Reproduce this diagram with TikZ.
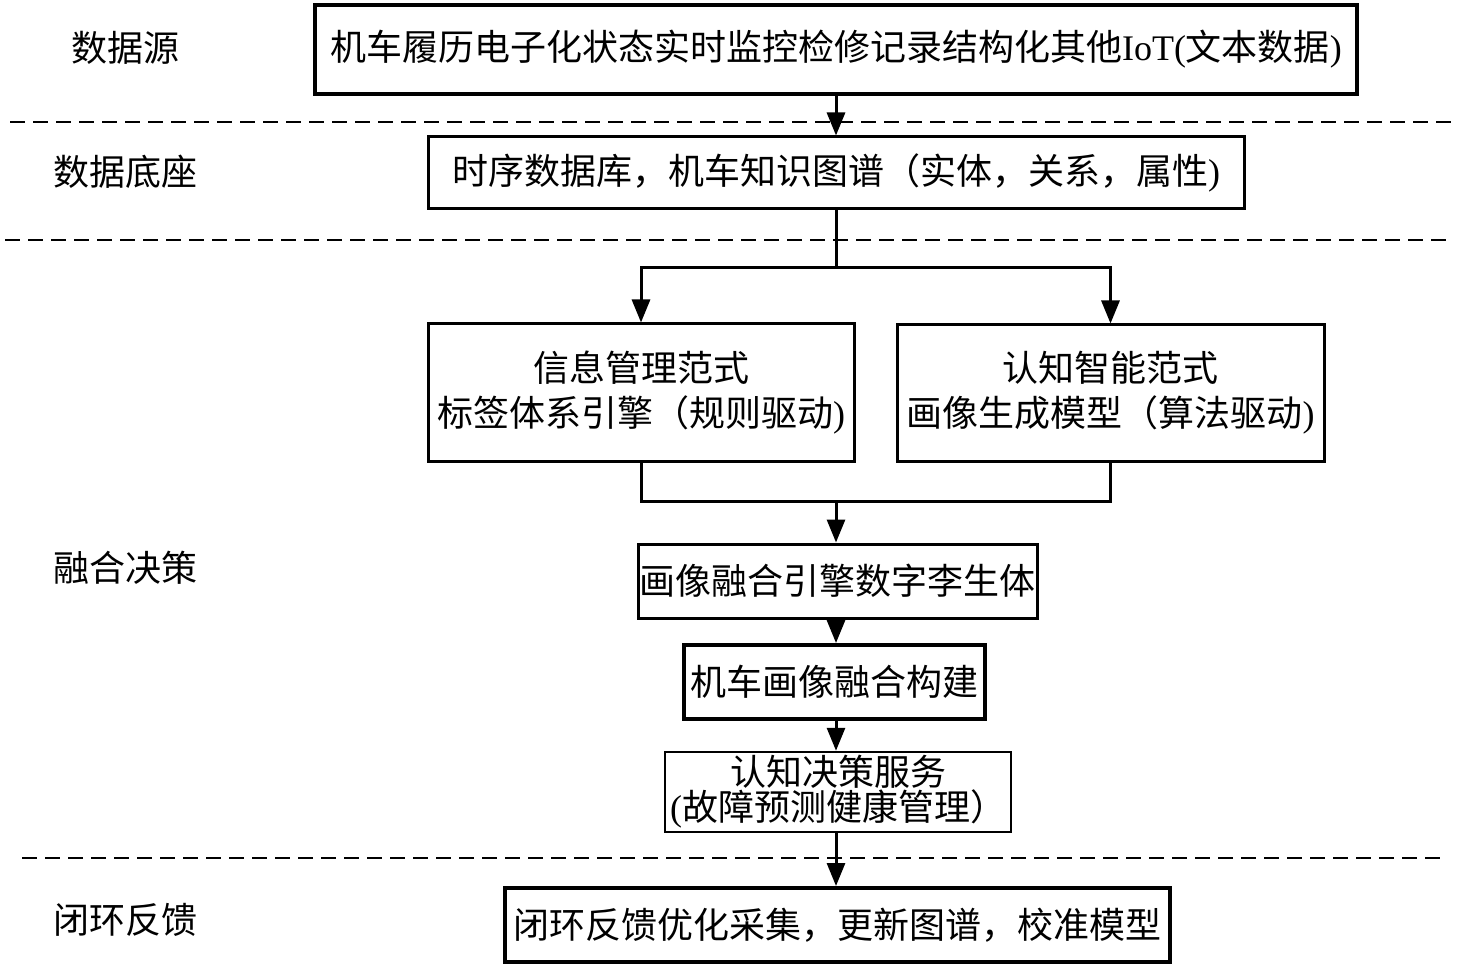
\documentclass[tikz,border=0pt]{standalone}
\usepackage{fontspec}
\setmainfont{Liberation Serif}
\newfontfamily\cjk{Noto Sans CJK SC}
\usetikzlibrary{arrows.meta}
\colorlet{line colour}{black}
\tikzset{
    % Filled triangle heads, as in the scanned figure
    >={Triangle[length=23pt, width=18pt]},
%
    % Boxes and lines
    box/.style={draw=line colour, line width=3pt, inner sep=0pt,
        align=center, fill=white},
    heavy box/.style={box, line width=4pt},
    flow/.style={line width=3pt, line colour, ->},
    link/.style={line width=3pt, line colour},
    divider/.style={line width=2.5pt, dash pattern=on 15pt off 8pt},
%
    % All text is set large, in the CJK face
    every node/.style={font=\cjk\fontsize{36}{45}\selectfont},
}
\newcommand{\lat}[1]{{\rmfamily #1}}

\begin{document}
\begin{tikzpicture}[
    x=1pt, y=-1pt,
    layer label/.style={anchor=center},
]
\useasboundingbox (0,0) rectangle (1462,968);

% layer separators
\draw [divider] (10,122) -- (1455,122);
\draw [divider] (5,240) -- (1450,240);
\draw [divider] (22,858) -- (1445,858);

% layer names
\node [layer label] (l source) at (125,48) {数据源};
\node [layer label] (l base) at (125,172) {数据底座};
\node [layer label] (l fusion) at (125,568) {融合决策};
\node [layer label] (l loop) at (125,920) {闭环反馈};

% boxes
\node [box, line width=3.5pt, minimum width=1042pt, minimum height=89pt]
    (source) at (836,49.5) {机车履历电子化状态实时监控检修记录结构化其他\lat{IoT(}文本数据\lat{)}};
\node [box, minimum width=816pt, minimum height=72pt]
    (base) at (836,173) {时序数据库，机车知识图谱（实体，关系，属性\lat{)}};
\node [box, minimum width=426pt, minimum height=137pt]
    (info) at (641,392.5) {信息管理范式\\标签体系引擎（规则驱动\lat{)}};
\node [box, minimum width=427pt, minimum height=136pt]
    (cog) at (1110.5,393) {认知智能范式\\画像生成模型（算法驱动\lat{)}};
\node [box, minimum width=399pt, minimum height=74pt]
    (engine) at (837.5,581) {画像融合引擎数字李生体};
\node [heavy box, minimum width=301pt, minimum height=74pt]
    (build) at (834.5,682) {机车画像融合构建};
\node [box, line width=2.5pt, minimum width=346pt, minimum height=80pt,
    font=\cjk\fontsize{36}{35}\selectfont]
    (service) at (838,792) {认知决策服务\\\lat{(}故障预测健康管理）};
\node [heavy box, minimum width=665pt, minimum height=74pt]
    (feedback) at (837.5,925) {闭环反馈优化采集，更新图谱，校准模型};

% connectors
\draw [flow] (source.south) -- (source.south |- base.north);
\draw [link] (base.south) -- ++(0,57) coordinate (split);
\draw [flow] (split) -| (info.north);
\draw [flow] (split) -| (cog.north);
\draw [link] (info.south) -- ++(0,39) coordinate (merge) -| (cog.south);
\draw [flow] (merge -| base.south) -- (base.south |- engine.north);
\draw [flow] (base.south |- engine.south) -- (base.south |- build.north);
\draw [flow] (base.south |- build.south) -- (base.south |- service.north);
\draw [flow] (base.south |- service.south) -- (base.south |- feedback.north);

\end{tikzpicture}
\end{document}
